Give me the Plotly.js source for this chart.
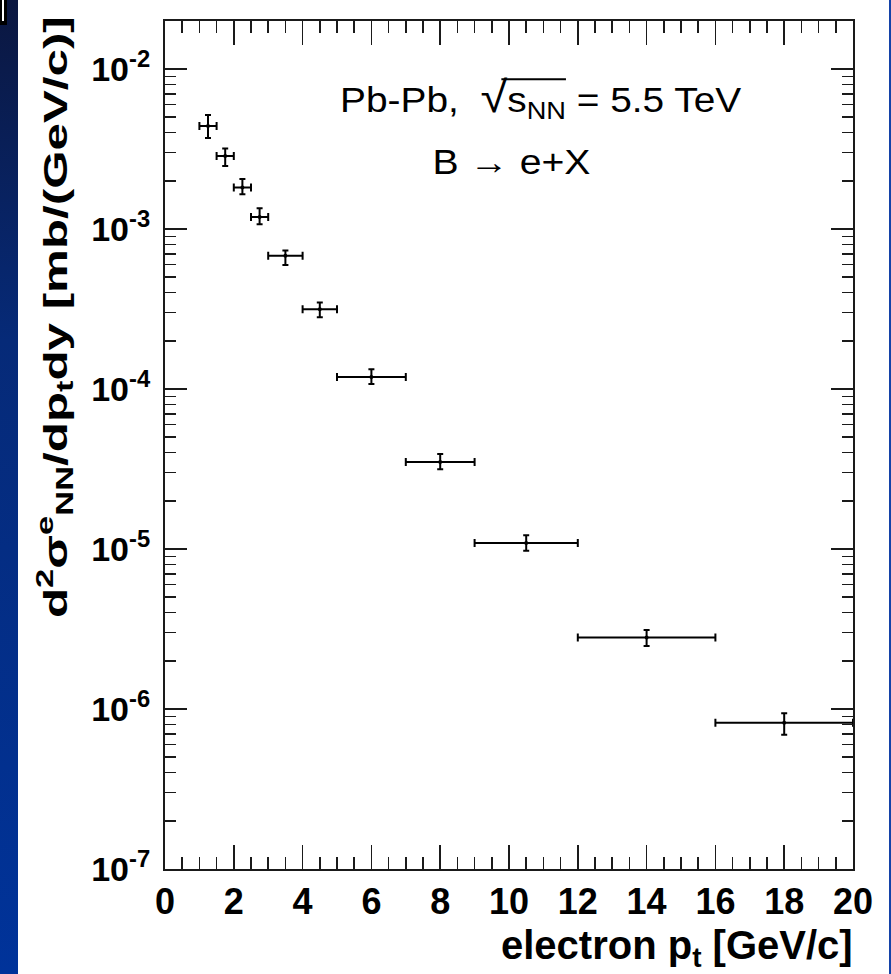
<!DOCTYPE html>
<html>
<head>
<meta charset="utf-8">
<script src="https://cdn.plot.ly/plotly-3.0.1.min.js"></script>
<style>
  html, body { margin: 0; padding: 0; }
  body { width: 891px; height: 974px; position: relative; overflow: hidden;
         background: linear-gradient(to bottom, #0b1740 0%, #062a78 35%, #00339a 100%); }
  #rightstrip { position: absolute; left: 889px; top: 0; width: 2px; height: 974px; background: #1442a8; }
  #corner { position: absolute; left: 0; top: 0; width: 7px; height: 25px; background: #000; }
  #cornerline { position: absolute; left: 2px; top: 0; width: 2px; height: 21px; background: #fff; }
  #chart { position: absolute; left: 18px; top: 0; width: 871px; height: 974px; }
</style>
</head>
<body>
<div id="corner"><div id="cornerline"></div></div>
<div id="rightstrip"></div>
<div id="chart"></div>
<script>
// ---- data ----
const ptCenter  = [1.25, 1.75, 2.25, 2.75, 3.5, 4.5, 6, 8, 10.5, 14, 18];
const ptLow     = [1.0, 1.5, 2.0, 2.5, 3, 4, 5, 7, 9, 12, 16];
const ptHigh    = [1.5, 2.0, 2.5, 3.0, 4, 5, 7, 9, 12, 16, 20];
const sigma     = [4.4e-3, 2.86e-3, 1.82e-3, 1.19e-3, 6.8e-4, 3.15e-4, 1.19e-4, 3.5e-5, 1.09e-5, 2.8e-6, 8.2e-7];
const sigmaHigh = [5.16e-3, 3.19e-3, 2.05e-3, 1.35e-3, 7.33e-4, 3.47e-4, 1.33e-4, 3.93e-5, 1.22e-5, 3.12e-6, 9.4e-7];
const sigmaLow  = [3.71e-3, 2.48e-3, 1.65e-3, 1.07e-3, 5.96e-4, 2.81e-4, 1.075e-4, 3.15e-5, 9.75e-6, 2.48e-6, 6.9e-7];
const yTickVals = [1e-7, 1e-6, 1e-5, 1e-4, 1e-3, 1e-2];
const yTickText = ['10<sup>-7</sup>', '10<sup>-6</sup>', '10<sup>-5</sup>', '10<sup>-4</sup>', '10<sup>-3</sup>', '10<sup>-2</sup>'];
const xTickVals = [0, 2, 4, 6, 8, 10, 12, 14, 16, 18, 20];
const xTickText = ['0', '2', '4', '6', '8', '10', '12', '14', '16', '18', '20'];
const labelLine1 = 'Pb-Pb,  <span style="font-size:44px">\u221A</span>s<sub>NN</sub> = 5.5 TeV';
const labelLine2 = 'B \u2192 e+X';
const yTitle = 'd<sup>2</sup>\u03C3<sup>e</sup><sub>NN</sub>/dp<sub>t</sub>dy [mb/(GeV/c)]';
const xTitle = 'electron p<sub>t</sub> [GeV/c]';

const FONT = '"Liberation Sans", Arial, Helvetica, sans-serif';
const AXC = '#1a1a1a';

const trace = {
  type: 'scatter', mode: 'markers',
  x: ptCenter, y: sigma,
  marker: { color: '#000', size: 4 },
  error_x: { type: 'data', symmetric: false,
             array: ptHigh.map((h, i) => h - ptCenter[i]),
             arrayminus: ptLow.map((l, i) => ptCenter[i] - l),
             color: '#000', thickness: 2, width: 4 },
  error_y: { type: 'data', symmetric: false,
             array: sigmaHigh.map((h, i) => h - sigma[i]),
             arrayminus: sigmaLow.map((l, i) => sigma[i] - l),
             color: '#000', thickness: 2, width: 3 },
  cliponaxis: false,
  hoverinfo: 'skip'
};

const layout = {
  width: 871, height: 974,
  margin: { l: 147, r: 36, t: 21, b: 105 },
  paper_bgcolor: '#ffffff', plot_bgcolor: '#ffffff',
  showlegend: false,
  font: { family: FONT, color: '#000' },
  xaxis: {
    range: [0, 20], showgrid: false, zeroline: false,
    showline: true, linecolor: AXC, linewidth: 2, mirror: 'ticks',
    ticks: 'inside', ticklen: 24, tickwidth: 1.5, tickcolor: AXC,
    tickmode: 'array', tickvals: xTickVals, ticktext: xTickText,
    tickfont: { family: FONT, size: 36, color: '#000', weight: 'bold' },
    minor: { ticks: 'inside', ticklen: 12, tickwidth: 1.5, tickcolor: AXC, dtick: 0.5 }
  },
  yaxis: {
    type: 'log', range: [-7, -1.7], showgrid: false, zeroline: false,
    showline: true, linecolor: AXC, linewidth: 2, mirror: 'ticks',
    ticks: 'inside', ticklen: 22, tickwidth: 1.5, tickcolor: AXC,
    tickmode: 'array', tickvals: yTickVals, ticktext: yTickText,
    tickfont: { family: FONT, size: 34, color: '#000', weight: 'bold' },
    ticklabelstandoff: 6,
    minor: { ticks: 'inside', ticklen: 11, tickwidth: 1.5, tickcolor: AXC, dtick: 'D1' }
  },
  annotations: [
    { text: labelLine1, xref: 'paper', yref: 'paper', x: 0.5465, y: 0.909,
      xanchor: 'center', yanchor: 'middle', showarrow: false,
      font: { family: FONT, size: 35, color: '#000' } },
    { text: labelLine2, xref: 'paper', yref: 'paper', x: 0.503, y: 0.834,
      xanchor: 'center', yanchor: 'middle', showarrow: false,
      font: { family: FONT, size: 35, color: '#000' } },
    { text: yTitle, xref: 'paper', yref: 'paper', x: -0.159, y: 0.651,
      xanchor: 'center', yanchor: 'middle', textangle: -90, showarrow: false,
      font: { family: FONT, size: 33, color: '#000', weight: 'bold' } },
    { text: xTitle, xref: 'paper', yref: 'paper', x: 1.003, y: -0.093,
      xanchor: 'right', yanchor: 'middle', showarrow: false,
      font: { family: FONT, size: 40, color: '#000', weight: 'bold' } }
  ]
};

function stretchAnn(idx, target) {
  const t = document.querySelector('.annotation[data-index="' + idx + '"] text.annotation-text');
  if (!t) return null;
  const bb = t.getBBox();
  if (!bb.width) return null;
  const k = target / bb.width;
  const cx = bb.x + bb.width / 2;
  t.setAttribute('transform', 'translate(' + cx + ',0) scale(' + k + ',1) translate(' + (-cx) + ',0)');
  return t;
}

// draw the vinculum of the square root over "s_NN", attached to the root sign
function addRootBar(t) {
  if (!t) return;
  const spans = t.querySelectorAll('tspan');
  let root = null, last = null;
  spans.forEach(function (s) {
    if (s.textContent === '\u221A') root = s;
    if (s.textContent === 'NN') last = s;
  });
  if (!root || !last) return;
  const svg = t.ownerSVGElement;
  const m = t.getCTM();
  const r1 = root.getBBox ? root.getExtentOfChar(0) : null;
  const n = last.getNumberOfChars();
  const r2 = last.getExtentOfChar(n - 1);
  const sx = root.getStartPositionOfChar(0);
  const p0 = svg.createSVGPoint(); p0.x = r1.x + r1.width * 0.78; p0.y = r1.y + r1.height * 0.14;
  const p1 = svg.createSVGPoint(); p1.x = r2.x + r2.width; p1.y = p0.y;
  const a = p0.matrixTransform(m), b = p1.matrixTransform(m);
  const line = document.createElementNS('http://www.w3.org/2000/svg', 'line');
  line.setAttribute('x1', a.x); line.setAttribute('y1', a.y);
  line.setAttribute('x2', b.x); line.setAttribute('y2', b.y);
  line.setAttribute('stroke', '#000'); line.setAttribute('stroke-width', '2');
  svg.appendChild(line);
}

Plotly.newPlot('chart', [trace], layout, { staticPlot: true }).then(function () {
  const t0 = stretchAnn(0, 402);
  stretchAnn(1, 158);
  stretchAnn(2, 602);
  const svgs = document.querySelectorAll('#chart svg.main-svg');
  // put the bar on the top-most svg layer so it is visible
  try { addRootBar(t0); } catch (e) { console.log(e); }
});
</script>
</body>
</html>
